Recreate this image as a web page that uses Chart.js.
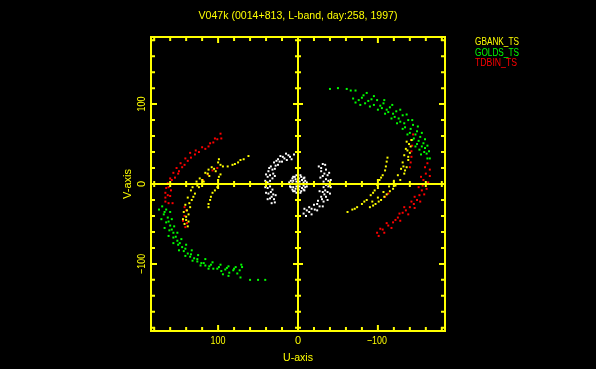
<!DOCTYPE html>
<html><head><meta charset="utf-8">
<script src="https://cdn.jsdelivr.net/npm/chart.js@4.4.1/dist/chart.umd.min.js"></script>
<style>html,body{margin:0;padding:0;background:#000;}canvas{display:block;}</style>
</head><body>
<canvas id="c" width="596" height="369"></canvas>
<script>
// ---- data: [u, v] in units shown on the axes ----
const titleText = "V047k (0014+813, L-band, day:258, 1997)";
const xTitle = "U-axis";
const yTitle = "V-axis";
const majorTicks = [-100, 0, 100];
const axisRange = [-184, 184];

const gbankPts = [
  // left main band
  [100,27],[108,21],[116,14],[123,7],[129,0],[134,-8],[138,-17],[141,-26],[143,-35],[144,-44],[142,-50],
  [94,22],[103,16],[111,10],[118,3],[124,-4],[129,-12],[133,-20],[135,-29],[137,-38],[137,-47],
  [97,24],[105,19],[113,13],[120,5],[126,-2],[131,-16],[136,-24],[139,-33],[140,-41],
  [99,31],[112,18],[127,3],[132,-4],[140,-45],[138,-53],
  // left upper sparse
  [62,35],[68,31],[75,27],[82,24],[88,22],[72,30],[79,25],
  // left inner arc
  [97,12],[100,5],[101,-4],[104,-8],[107,-11],[109,-16],[110,-20],[112,-25],[112,-29],[99,9],[103,0],
  // right main band
  [-142,55],[-141,47],[-140,39],[-138,30],[-136,21],[-133,13],[-128,5],[-122,-2],[-115,-9],[-108,-16],[-101,-22],[-94,-27],
  [-136,53],[-135,44],[-133,36],[-131,27],[-129,19],[-125,11],[-120,4],[-114,-3],[-107,-10],[-100,-17],[-93,-22],
  [-139,50],[-138,34],[-134,17],[-124,0],[-111,-13],[-97,-25],[-137,42],[-132,22],[-119,-6],[-104,-20],[-90,-29],
  // right inner arc
  [-111,28],[-110,22],[-109,17],[-106,11],[-102,5],[-99,-1],[-96,-8],[-91,-14],[-86,-20],[-80,-25],[-74,-29],[-68,-32],[-62,-35],
  [-112,33],[-104,8],[-94,-11],[-83,-22],[-71,-31]
];

const goldsPts = [
  // left lower arc
  [170,-28],[168,-38],[165,-48],[161,-58],[156,-67],[150,-76],[143,-84],[135,-91],[126,-97],[116,-102],[106,-106],[96,-109],[86,-111],[76,-112],
  [160,-35],[158,-44],[155,-53],[151,-61],[146,-69],[140,-76],[133,-83],[125,-89],[116,-94],[107,-98],[97,-101],[87,-103],[78,-104],[70,-104],
  [165,-32],[163,-42],[160,-52],[156,-61],[151,-71],[145,-79],[138,-87],[130,-93],[121,-99],[111,-103],[101,-106],[91,-107],[81,-108],[73,-108],
  [167,-35],[162,-47],[158,-57],[153,-66],[148,-74],[141,-81],[134,-88],[126,-94],[118,-99],[109,-101],[99,-104],[89,-105],[80,-106],[71,-101],
  [174,-32],[171,-44],[167,-55],[162,-65],[156,-74],[149,-83],[141,-90],[132,-96],[122,-102],[112,-106],
  [94,-113],[87,-115],[72,-117],[60,-120],[50,-120],[41,-120],
  // right upper arc
  [-40,119],[-50,120],[-61,119],[-72,117],[-86,114],[-66,117],
  [-69,107],[-80,108],[-92,106],[-99,105],[-107,101],[-115,96],[-123,91],[-131,86],[-138,80],[-144,74],[-149,66],[-153,59],[-157,51],[-159,45],[-161,38],[-162,32],
  [-72,102],[-84,101],[-95,99],[-105,95],[-113,90],[-121,84],[-128,78],[-134,71],[-140,64],[-145,57],[-149,50],[-152,43],[-154,37],
  [-76,105],[-88,104],[-103,98],[-111,93],[-119,88],[-126,82],[-133,76],[-141,69],[-147,62],[-151,54],[-155,47],[-158,40],[-165,32],
  [-82,111],[-95,110],[-108,105],[-118,99],[-128,93],[-136,87],[-143,80],[-150,72],[-155,64],[-159,56],[-162,48],[-164,41],
  [-78,99],[-90,97],[-100,93],[-109,88],[-117,82],[-124,76],[-131,69],[-137,62],[-143,55],[-147,47]
];

const tdbinPts = [
  // left outer arc
  [97,63],[104,57],[110,51],[120,46],[128,42],[135,39],[141,32],[147,26],[152,20],[156,14],[160,7],[163,1],[165,-5],[166,-11],[166,-17],[166,-22],
  [101,56],[112,47],[124,40],[134,33],[142,24],[149,16],[154,8],[157,0],[159,-8],[160,-15],[157,-24],
  [96,57],[106,52],[116,44],[129,37],[138,29],[145,21],[150,13],[158,5],[162,-4],[163,-14],[162,-24],
  // left inner (among yellow)
  [101,20],[107,17],[113,12],[119,5],[140,-33],[142,-40],[144,-46],[141,-54],[142,-29],[139,-49],
  // right outer arc
  [-159,21],[-160,13],[-157,5],[-156,-2],[-155,-8],[-152,-14],[-149,-20],[-145,-25],[-140,-29],[-135,-33],[-131,-36],[-125,-42],[-119,-48],[-113,-52],[-106,-57],[-99,-61],
  [-165,18],[-165,10],[-163,2],[-161,-6],[-158,-13],[-153,-22],[-146,-30],[-138,-38],[-128,-46],[-117,-55],[-108,-61],[-101,-65],
  [-162,26],[-154,9],[-151,-4],[-146,-16],[-142,-22],[-133,-29],[-127,-37],[-122,-45],[-111,-49],[-103,-56],
  // right inner (among yellow)
  [-142,55],[-143,48],[-142,41],[-142,34],[-141,27],[-140,21],[-109,-16],[-113,-12],[-144,62]
];

const otherPts = [
  // left band
  [5,37],[12,36],[19,34],[25,31],[30,27],[34,22],[37,16],[38,9],[38,2],[38,-5],[37,-12],[35,-18],[33,-24],
  [8,31],[14,30],[20,28],[25,24],[29,19],[31,13],[32,7],[32,0],[32,-7],[31,-13],[30,-19],
  [10,34],[17,32],[23,28],[28,23],[32,18],[35,11],[35,4],[35,-3],[34,-10],[33,-16],[29,-23],
  [15,38],[22,35],[27,29],[36,20],[40,12],[41,4],[41,-4],[40,-11],[38,-19],[28,-14],[29,10],
  // right band
  [-31,25],[-35,18],[-37,11],[-38,4],[-38,-3],[-37,-10],[-35,-16],[-32,-22],[-27,-28],[-21,-32],[-14,-35],[-7,-37],
  [-26,22],[-29,16],[-31,10],[-32,3],[-32,-4],[-31,-10],[-29,-16],[-25,-21],[-20,-26],[-14,-29],[-8,-31],
  [-29,20],[-33,13],[-35,6],[-35,-1],[-34,-8],[-33,-13],[-30,-19],[-24,-25],[-17,-31],[-11,-33],
  [-34,24],[-39,14],[-41,5],[-41,-4],[-40,-12],[-37,-20],[-31,-28],[-24,-33],[-17,-38],[-10,-40],[-28,8],[-27,-9],
  // centre blob
  [10,0],[9,4],[7,7],[4,9],[0,10],[-4,9],[-7,7],[-9,4],[-10,0],[-9,-4],[-7,-7],[-4,-9],[0,-10],[4,-9],[7,-7],[9,-4],
  [11,2],[10,-3],[6,9],[2,11],[-3,11],[-8,8],[-11,2],[-11,-3],[-8,-8],[-3,-11],[2,-11],[6,-9],
  [7,1],[6,4],[3,6],[-1,7],[-5,5],[-7,2],[-7,-2],[-5,-5],[-1,-7],[3,-6],[6,-4],
  [4,0],[2,3],[-2,3],[-4,0],[-2,-3],[2,-3],[0,0]
];

const seriesNames = ["GBANK_TS", "GOLDS_TS", "TDBIN_TS"];
const seriesColors = ["#ffff00", "#00ff00", "#ff0000"];

const toXY = a => a.map(p => ({x: p[0], y: p[1]}));

const YEL = "#ffff00";
const FONT = "11px 'Liberation Sans', Arial, sans-serif";

function txt(ctx, s, x, y, align, maxW, color, rot) {
  ctx.save();
  ctx.translate(x, y);
  if (rot) ctx.rotate(rot);
  ctx.fillStyle = color || YEL;
  ctx.font = FONT;
  ctx.textAlign = align || 'center';
  ctx.textBaseline = 'middle';
  const w = ctx.measureText(s).width;
  if (maxW && w > 0) ctx.scale(maxW / w, 1);
  ctx.fillText(s, 0, 0);
  ctx.restore();
}

const framePlugin = {
  id: 'framePlugin',
  beforeDraw(chart) {
    const ctx = chart.ctx;
    ctx.save();
    ctx.fillStyle = '#000';
    ctx.fillRect(0, 0, chart.width, chart.height);
    ctx.restore();
  },
  afterDatasetsDraw(chart) {
    const ctx = chart.ctx;
    const xs = chart.scales.x, ys = chart.scales.y;
    const a = chart.chartArea;
    ctx.save();
    ctx.strokeStyle = YEL;
    ctx.lineWidth = 2;
    ctx.strokeRect(a.left, a.top, a.right - a.left, a.bottom - a.top);
    const x0 = xs.getPixelForValue(0), y0 = ys.getPixelForValue(0);
    ctx.beginPath();
    ctx.moveTo(a.left, y0); ctx.lineTo(a.right, y0);
    ctx.moveTo(x0, a.top); ctx.lineTo(x0, a.bottom);
    for (let v = -180; v <= 180; v += 20) {
      const major = v % 100 === 0;
      const L = major ? 6 : 4;
      const C = major ? 5 : 3;
      const px = xs.getPixelForValue(v);
      const py = ys.getPixelForValue(v);
      ctx.moveTo(px, a.bottom); ctx.lineTo(px, a.bottom - L);
      ctx.moveTo(px, a.top); ctx.lineTo(px, a.top + L);
      ctx.moveTo(a.left, py); ctx.lineTo(a.left + L, py);
      ctx.moveTo(a.right, py); ctx.lineTo(a.right - L, py);
      if (v !== 0) {
        ctx.moveTo(px, y0 - C); ctx.lineTo(px, y0 + C);
        ctx.moveTo(x0 - C, py); ctx.lineTo(x0 + C, py);
      }
    }
    ctx.stroke();
    ctx.restore();

    majorTicks.forEach(t => {
      const s = t < 0 ? "\u2212" + Math.abs(t) : String(t);
      const px = xs.getPixelForValue(t);
      txt(ctx, s, px - (t < 0 ? 1 : 0), a.bottom + 10, 'center', t === 0 ? null : (t < 0 ? 20 : 15));
      const py = ys.getPixelForValue(t);
      txt(ctx, s, a.left - 9, py, 'center', t === 0 ? null : (t < 0 ? 20 : 15), YEL, -Math.PI / 2);
    });
    txt(ctx, xTitle, (a.left + a.right) / 2, a.bottom + 27, 'center', 30);
    txt(ctx, yTitle, a.left - 23, (a.top + a.bottom) / 2, 'center', 30, YEL, -Math.PI / 2);
    txt(ctx, titleText, (a.left + a.right) / 2, 16, 'center', 199);

    chart.data.datasets.forEach((ds, i) => {
      if (!ds.label) return;
      txt(ctx, ds.label, 475, 42 + i * 10.5, 'left', 44 + (ds.label === "TDBIN_TS" ? -2 : 0), ds.backgroundColor);
    });
  }
};

const mk = (label, pts, color) => ({
  label, data: toXY(pts), backgroundColor: color, borderWidth: 0,
  pointStyle: 'rect', pointRadius: 1.4, pointHoverRadius: 1.4
});

new Chart(document.getElementById('c'), {
  type: 'scatter',
  data: {
    datasets: [
      mk(seriesNames[0], gbankPts, seriesColors[0]),
      mk(seriesNames[1], goldsPts, seriesColors[1]),
      mk(seriesNames[2], tdbinPts, seriesColors[2]),
      mk("", otherPts, "#ffffff")
    ]
  },
  options: {
    responsive: false,
    animation: false,
    devicePixelRatio: 1,
    layout: { padding: { left: 151, right: 151, top: 37, bottom: 38 } },
    plugins: { legend: { display: false }, tooltip: { enabled: false }, title: { display: false } },
    scales: {
      x: { type: 'linear', min: axisRange[0], max: axisRange[1], reverse: true, display: false },
      y: { type: 'linear', min: axisRange[0], max: axisRange[1], display: false }
    }
  },
  plugins: [framePlugin]
});
</script>
</body></html>
